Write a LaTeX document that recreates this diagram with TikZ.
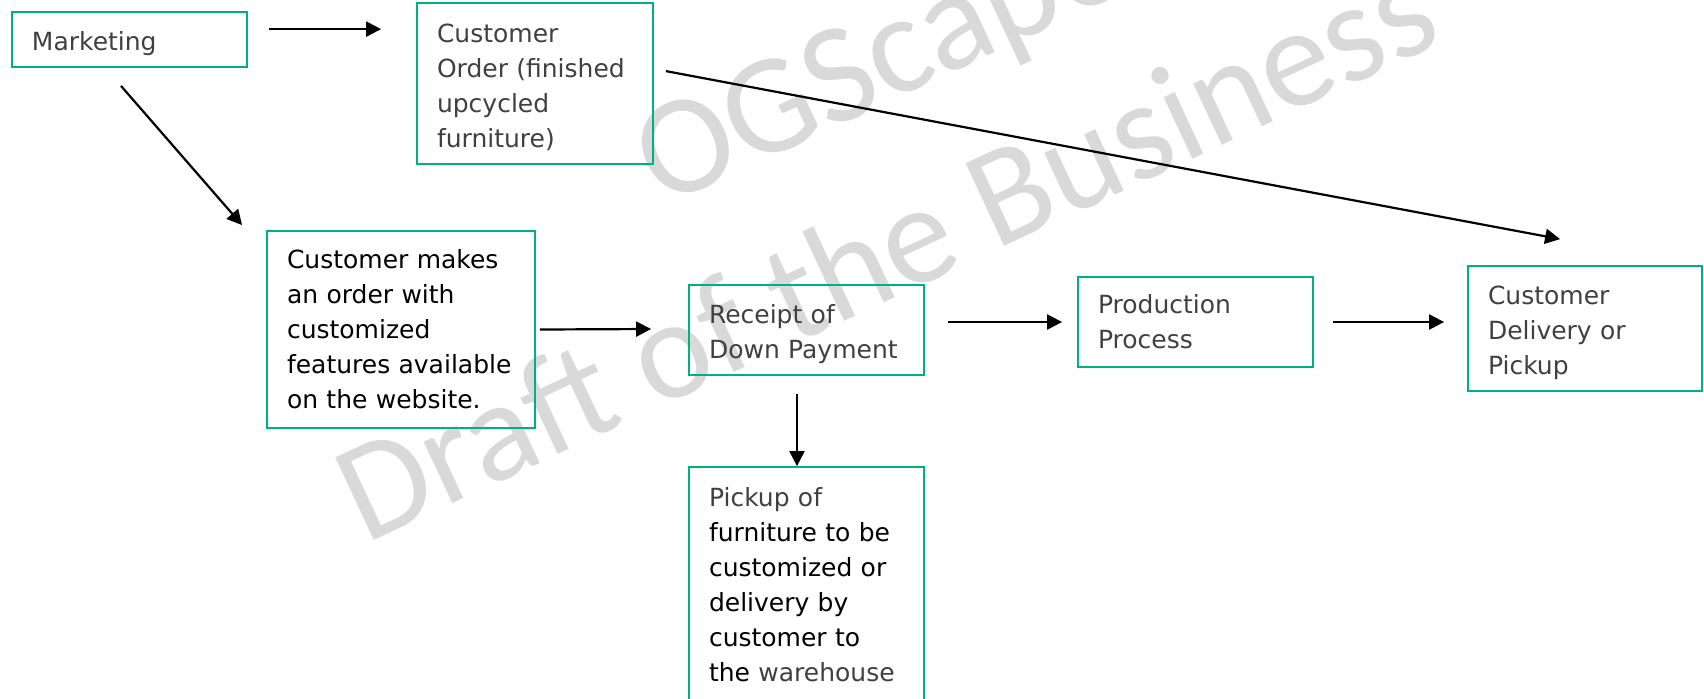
\documentclass[tikz,border=0pt]{standalone}
\usepackage{fontspec}
\setmainfont{DejaVu Sans}
\newfontfamily\wmfont{Carlito}
\usetikzlibrary{arrows.meta,calc}
\definecolor{boxgreen}{RGB}{0,176,128}
\definecolor{txtgray}{RGB}{64,64,64}
\definecolor{wmgray}{RGB}{217,217,217}
\begin{document}
\begin{tikzpicture}[x=0.5pt,y=-0.5pt,
  flow/.style={draw=boxgreen, line width=0.9pt, align=left, inner xsep=10pt, inner ysep=0pt,
    font=\fontsize{12.5pt}{17.5pt}\selectfont, text=txtgray},
  arr/.style={-{Triangle[length=7.5pt,width=7.5pt]}, line width=1.1pt, draw=black},
  wm/.style={text=wmgray, font=\wmfont\fontsize{71pt}{71pt}\selectfont, rotate=25,
    anchor=base west, inner sep=0pt}]
\useasboundingbox (0,0) rectangle (1704,698);
% watermark
\node[wm] (wm1) at (662,208) {OGScape};
\node[wm] (wm2) at (365,545) {Draft of the Business};
% boxes
\node[flow, text width=97.5pt, minimum height=27.5pt] (mkt) at (129.5,39.5)
  {\rule{0pt}{14pt}Marketing};
\node[flow, text width=98pt, minimum height=80.5pt] (co) at (535,83.5)
  {\rule{0pt}{13.5pt}Customer\\Order~(finished\\upcycled\\furniture)};
\node[flow, text=black, text width=114pt, minimum height=98.5pt] (cm) at (401,329.5)
  {Customer~makes\\an~order~with\\customized\\features~available\\on~the~website.};
\node[flow, text width=97.5pt, minimum height=45pt] (rc) at (806.5,330)
  {\rule{0pt}{13.5pt}Receipt~of\\Down~Payment};
\node[flow, text width=97.5pt, minimum height=45pt] (pp) at (1195.5,322)
  {Production\\Process};
\node[flow, text width=97pt, minimum height=62.5pt] (cd) at (1585,328.5)
  {\rule{0pt}{14pt}Customer\\Delivery~or\\Pickup};
\node[flow, text width=97.5pt, minimum height=117.5pt] (pk) at (806.5,584.5)
  {Pickup~of\\\textcolor{black}{furniture~to~be}\\\textcolor{black}{customized~or}\\\textcolor{black}{delivery~by}\\\textcolor{black}{customer~to}\\\textcolor{black}{the}~warehouse};
% connectors
\draw[arr] ($(mkt.north east)+(21,18)$) -- ($(co.north west)+(-35,27)$);
\draw[arr] ($(mkt.south)+(-8.5,18)$) -- ($(cm.north west)+(-24,-5)$);
\draw[arr] ($(co.north east)+(12,69)$) -- ($(cd.north west)+(93,-26)$);
\draw[arr] ($(cm.east)+(4,0)$) -- ($(rc.west)+(-37,-1)$);
\draw[arr] ($(rc.east)+(23,-8)$) -- ($(pp.west)+(-15,0)$);
\draw[arr] ($(pp.east)+(19,0)$) -- ($(cd.west)+(-23,-6.5)$);
\draw[arr] ($(rc.south)+(-9.5,18)$) -- ($(pk.north)+(-9.5,0)$);
\end{tikzpicture}
\end{document}
